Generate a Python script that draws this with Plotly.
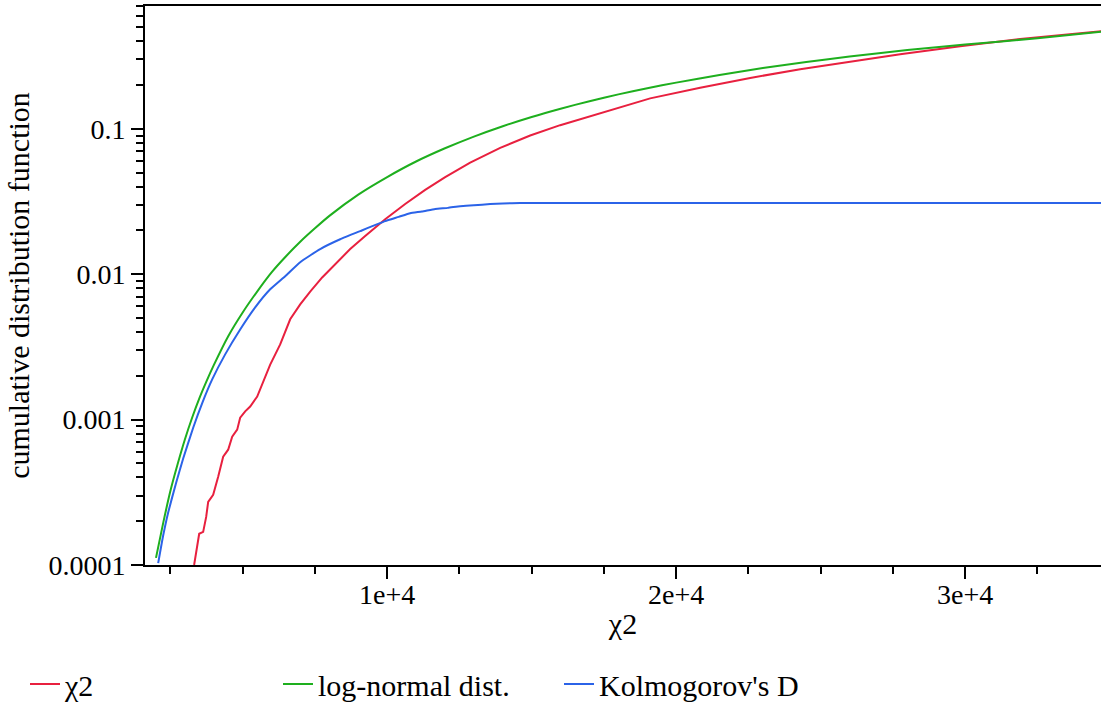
import plotly.graph_objects as go

# ---- data ----
chi2_x = [3320, 3430, 3495, 3633, 3737, 3806, 3979, 4152, 4325, 4498, 4637, 4810, 4913, 5087,
          5260, 5502, 5744, 5952, 6298, 6644, 6990, 7336, 7751, 8201, 8720, 9239, 9931, 10623,
          11315, 12007, 12872, 13910, 14948, 15986, 17370, 19100, 20830, 22561, 24291, 26021,
          27751, 29827, 31903, 34706]
chi2_y = [1.0e-4, 1.33e-4, 1.64e-4, 1.69e-4, 2.14e-4, 2.72e-4, 3.04e-4, 4.05e-4, 5.56e-4, 6.21e-4,
          7.63e-4, 8.53e-4, 1.03e-3, 1.14e-3, 1.23e-3, 1.44e-3, 1.89e-3, 2.39e-3, 3.29e-3, 4.9e-3,
          6.2e-3, 7.6e-3, 9.5e-3, 1.17e-2, 1.49e-2, 1.83e-2, 2.39e-2, 3.04e-2, 3.80e-2, 4.65e-2,
          5.85e-2, 7.40e-2, 9.00e-2, 0.106, 0.128, 0.162, 0.192, 0.224, 0.257, 0.291, 0.326,
          0.370, 0.415, 0.470]

lognorm_x = [2000, 2250, 2500, 2750, 3000, 3250, 3500, 3750, 4000, 4500, 5000, 5500, 6000, 6500,
             7000, 7500, 8000, 9000, 10000, 11000, 12000, 13000, 14000, 15000, 16000, 17000,
             18000, 19000, 20000, 21500, 23000, 24500, 26000, 28000, 30000, 32500, 35000]
lognorm_y = [1.12e-4, 1.95e-4, 3.24e-4, 4.95e-4, 7.3e-4, 1.03e-3, 1.40e-3, 1.84e-3, 2.37e-3,
             3.75e-3, 5.46e-3, 7.6e-3, 1.03e-2, 1.33e-2, 1.68e-2, 2.07e-2, 2.52e-2, 3.53e-2,
             4.66e-2, 5.96e-2, 7.35e-2, 8.85e-2, 0.1043, 0.1208, 0.1376, 0.155, 0.1726, 0.1902,
             0.208, 0.235, 0.262, 0.288, 0.314, 0.348, 0.380, 0.420, 0.472]

kolm_x = [2076, 2250, 2422, 2700, 2941, 3287, 3600, 3945, 4394, 4913, 5433, 5952, 6471, 6990,
          7682, 8374, 9066, 9931, 10400, 10796, 11200, 11661, 12100, 12526, 13000, 13564, 14000,
          14602, 34706]
kolm_y = [1.03e-4, 1.6e-4, 2.3e-4, 3.7e-4, 5.4e-4, 8.8e-4, 1.3e-3, 1.89e-3, 2.81e-3,
          4.17e-3, 5.92e-3, 7.88e-3, 9.7e-3, 1.21e-2, 1.49e-2, 1.74e-2, 1.98e-2, 2.32e-2,
          2.48e-2, 2.63e-2, 2.70e-2, 2.81e-2, 2.86e-2, 2.94e-2, 2.98e-2, 3.04e-2, 3.07e-2,
          3.09e-2, 3.09e-2]

x_tickvals = [10000, 20000, 30000]
x_ticktext = ["1e+4", "2e+4", "3e+4"]
y_tickvals = [0.0001, 0.001, 0.01, 0.1]
y_ticktext = ["0.0001", "0.001", "0.01", "0.1"]

FONT = "Liberation Serif"
RED = "#E8203F"
GREEN = "#1EAF1E"
BLUE = "#2B63E8"

fig = go.Figure()
fig.add_trace(go.Scatter(x=chi2_x, y=chi2_y, mode="lines", name="χ2",
                         line=dict(color=RED, width=2), legend="legend"))
fig.add_trace(go.Scatter(x=lognorm_x, y=lognorm_y, mode="lines", name="log-normal dist.",
                         line=dict(color=GREEN, width=2, shape="spline", smoothing=0.6),
                         legend="legend2"))
fig.add_trace(go.Scatter(x=kolm_x, y=kolm_y, mode="lines", name="Kolmogorov's D",
                         line=dict(color=BLUE, width=2, shape="spline", smoothing=0.4),
                         legend="legend3"))

LEG_Y = 1 - 684 / 724
leg_common = dict(xref="container", yref="container", yanchor="middle", xanchor="left",
                  font=dict(family=FONT, size=30, color="black"), bgcolor="rgba(0,0,0,0)",
                  borderwidth=0, orientation="h", itemwidth=30)

fig.update_layout(
    width=1101, height=724,
    margin=dict(l=145, r=0, t=6, b=159),
    plot_bgcolor="white", paper_bgcolor="white",
    font=dict(family=FONT, size=28, color="black"),
    showlegend=True,
    legend=dict(x=25 / 1101, y=LEG_Y, **leg_common),
    legend2=dict(x=278 / 1101, y=LEG_Y, **leg_common),
    legend3=dict(x=559 / 1101, y=LEG_Y, **leg_common),
    xaxis=dict(
        range=[1620, 34700], showgrid=False, zeroline=False,
        showline=True, linecolor="black", linewidth=2, mirror=True,
        tickmode="array", tickvals=x_tickvals, ticktext=x_ticktext,
        ticks="outside", ticklen=12, tickwidth=2, tickcolor="black",
        tickfont=dict(family=FONT, size=28), ticklabelstandoff=-9,
        minor=dict(dtick=2500, tick0=0, ticks="outside", ticklen=7, tickwidth=2,
                   tickcolor="black", showgrid=False),
        title=dict(text="χ2", font=dict(family=FONT, size=30), standoff=4),
    ),
    yaxis=dict(
        type="log", range=[-4, -0.155], showgrid=False, zeroline=False,
        showline=True, linecolor="black", linewidth=2, mirror=False,
        tickmode="array", tickvals=y_tickvals, ticktext=y_ticktext,
        ticks="outside", ticklen=12, tickwidth=2, tickcolor="black",
        tickfont=dict(family=FONT, size=28),
        minor=dict(dtick="D1", ticks="outside", ticklen=7, tickwidth=2,
                   tickcolor="black", showgrid=False),
        title=dict(text="cumulative distribution function", font=dict(family=FONT, size=30),
                   standoff=10),
    ),
)

fig.write_html("out.html")
